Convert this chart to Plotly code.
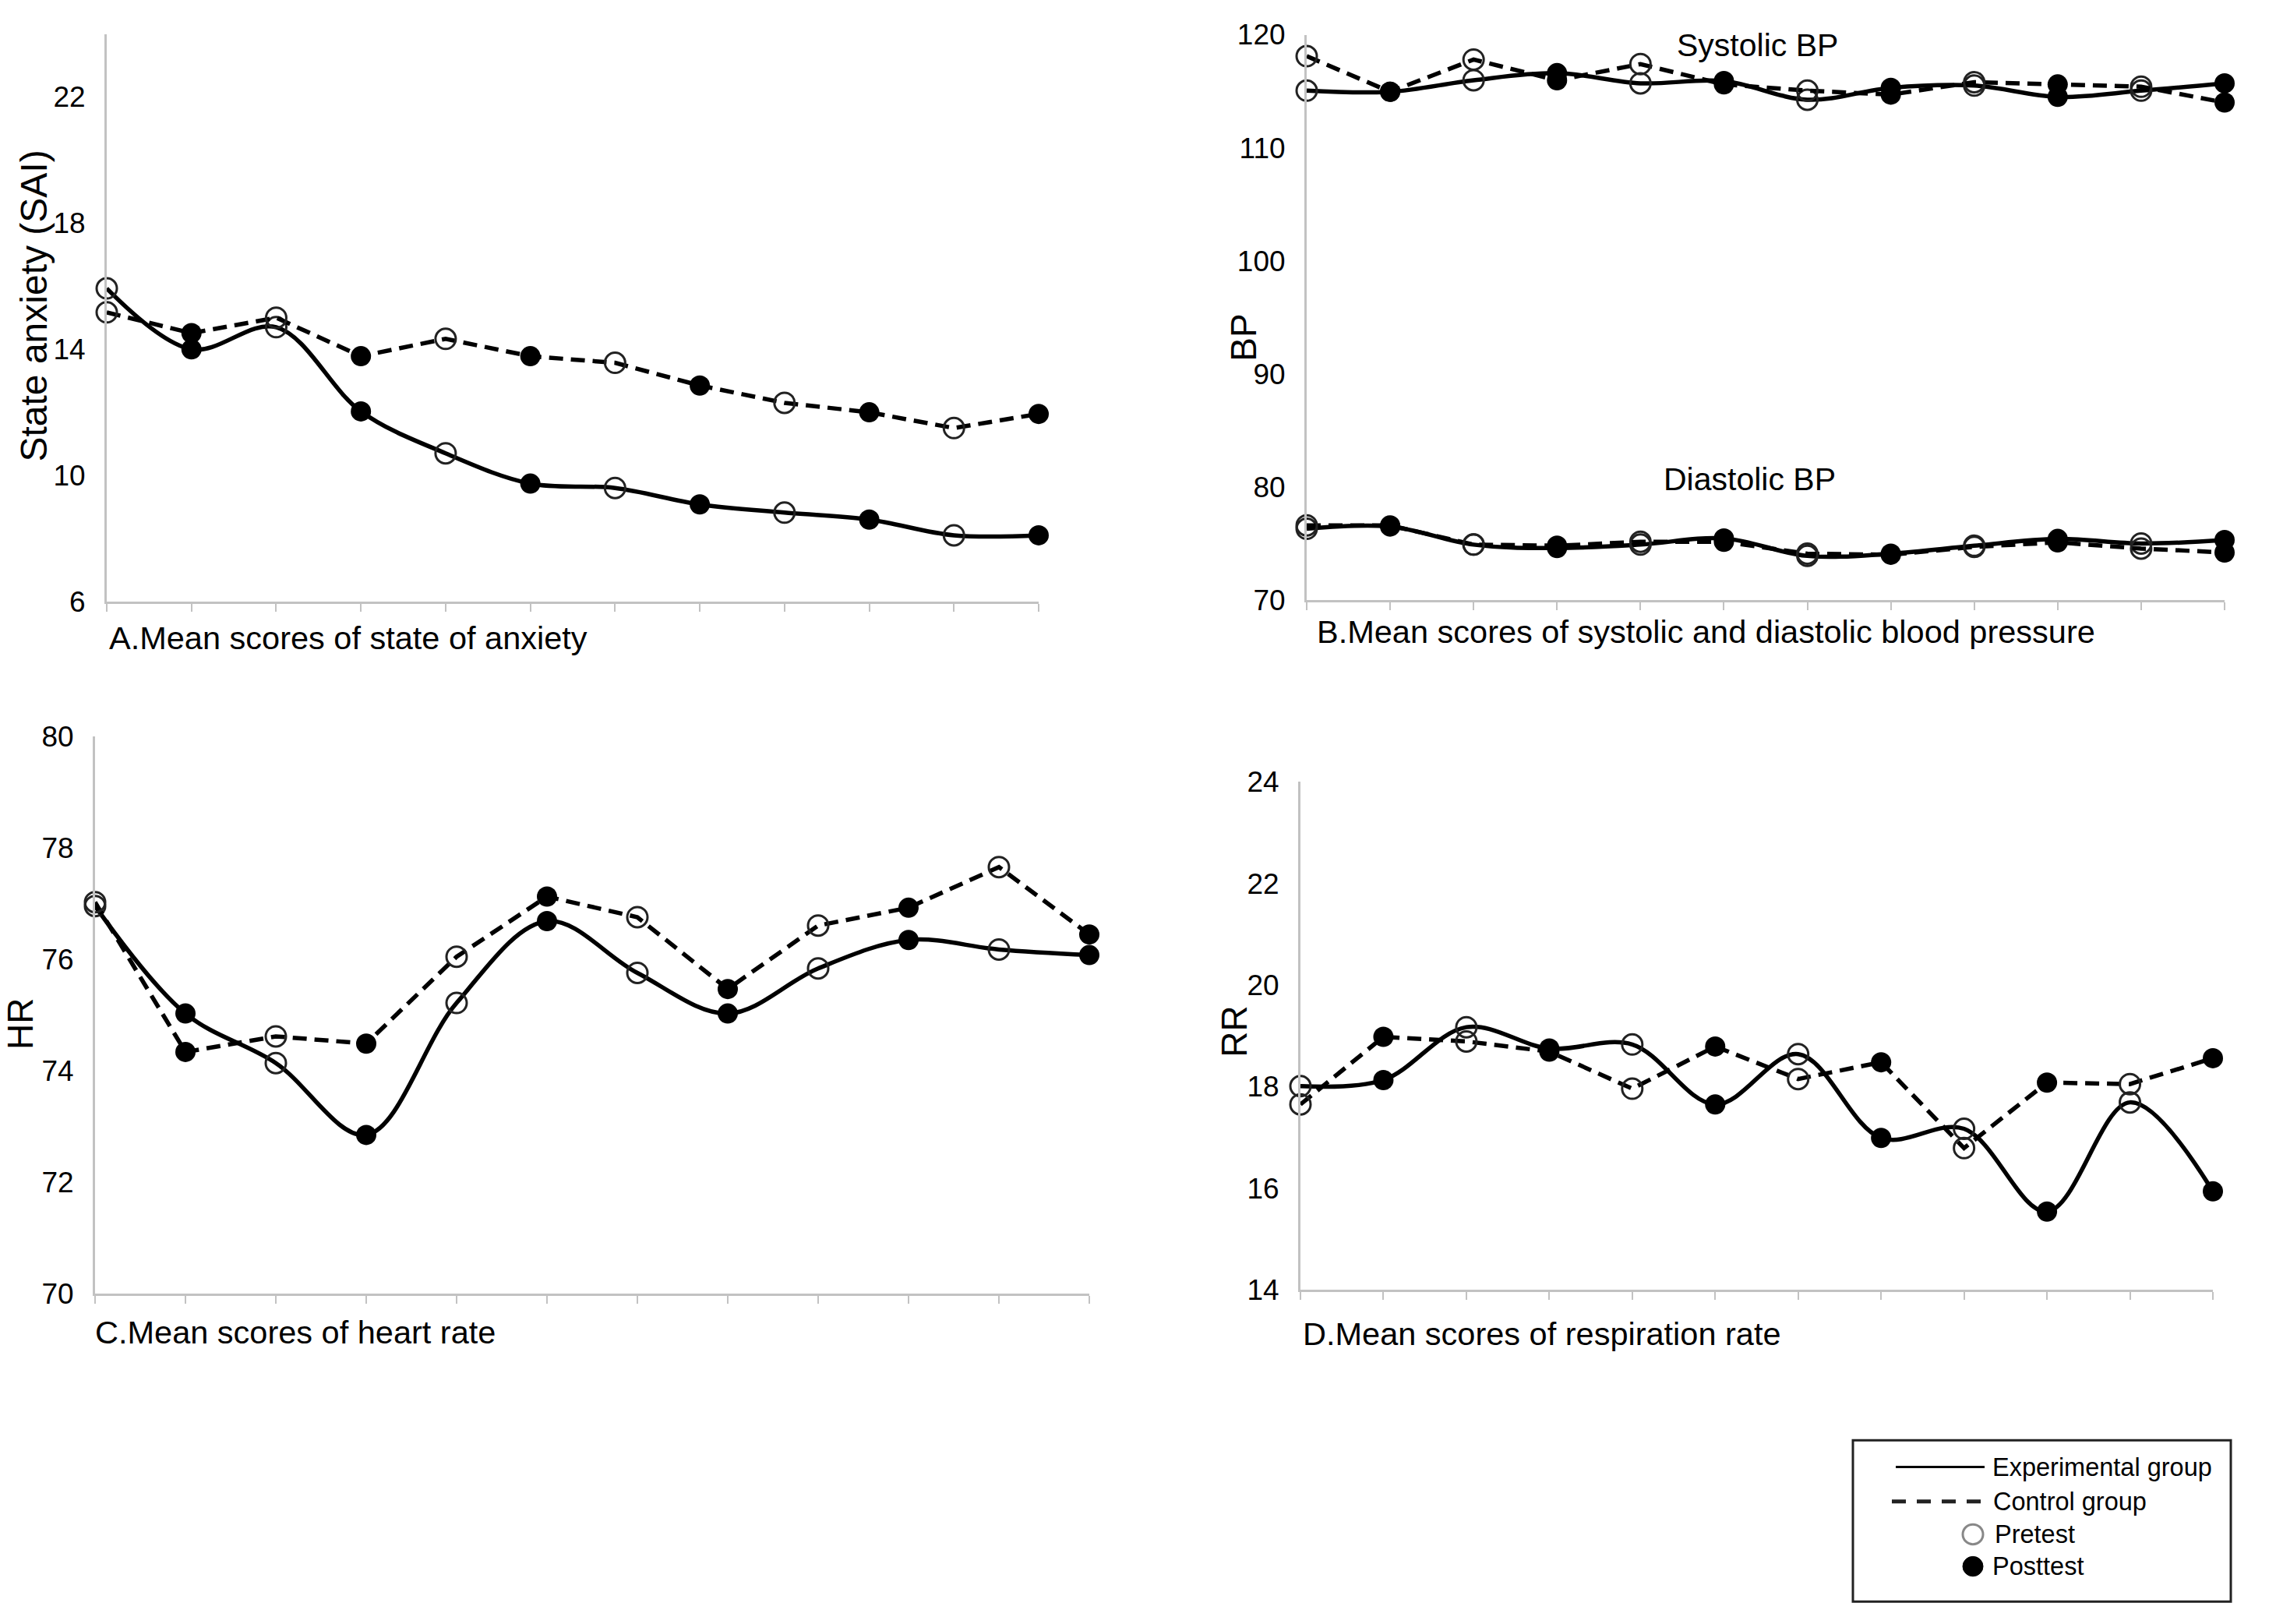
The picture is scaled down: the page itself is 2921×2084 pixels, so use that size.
import plotly.graph_objects as go

W = 2921; H = 2084

sessions = list(range(1, 13))

# state anxiety (SAI)
anx_exp = [15.93, 14.0, 14.7, 12.03, 10.7, 9.74, 9.6, 9.08, 8.82, 8.6, 8.1, 8.1]
anx_ctl = [15.17, 14.51, 15.0, 13.78, 14.33, 13.78, 13.57, 12.85, 12.3, 12.0, 11.5, 11.95]
# systolic / diastolic BP
sbp_exp = [115.05, 114.95, 115.97, 116.6, 115.7, 115.9, 114.25, 115.3, 115.5, 114.5, 115.05, 115.7]
sbp_ctl = [118.1, 114.95, 117.8, 115.97, 117.4, 115.6, 115.05, 114.7, 115.8, 115.6, 115.4, 114.0]
dbp_exp = [76.3, 76.5, 74.9, 74.6, 74.9, 75.45, 73.9, 74.1, 74.8, 75.4, 75.0, 75.3]
dbp_ctl = [76.6, 76.6, 74.9, 74.8, 75.15, 75.15, 74.1, 74.0, 74.7, 75.1, 74.55, 74.2]
# heart rate
hr_exp = [76.96, 75.03, 74.14, 72.85, 75.22, 76.69, 75.76, 75.03, 75.84, 76.35, 76.18, 76.08]
hr_ctl = [77.03, 74.34, 74.62, 74.49, 76.05, 77.13, 76.76, 75.47, 76.61, 76.93, 77.66, 76.45]
# respiration rate
rr_exp = [18.01, 18.13, 19.17, 18.75, 18.83, 17.65, 18.64, 16.99, 17.17, 15.54, 17.69, 15.94]
rr_ctl = [17.65, 18.98, 18.89, 18.69, 17.96, 18.79, 18.15, 18.48, 16.79, 18.08, 18.05, 18.56]

y_ticks_a = [6, 10, 14, 18, 22]
y_ticks_b = [70, 80, 90, 100, 110, 120]
y_ticks_c = [70, 72, 74, 76, 78, 80]
y_ticks_d = [14, 16, 18, 20, 22, 24]

panel_titles = ["A.Mean scores of state of anxiety",
                "B.Mean scores of systolic and diastolic blood pressure",
                "C.Mean scores of heart rate",
                "D.Mean scores of respiration rate"]
y_titles = ["State anxiety (SAI)", "BP", "HR", "RR"]
legend_labels = ["Experimental group", "Control group", "Pretest", "Posttest"]

FONT = "Liberation Sans, Arial, sans-serif"
AX = "#c2c2c2"

def px(x):
    return x / W

def py(y):
    return 1 - y / H

fig = go.Figure()

def add_series(vals, axis, dashed):
    xa, ya = "x" + axis, "y" + axis
    fig.add_trace(go.Scatter(
        x=sessions, y=vals, mode="lines", xaxis=xa, yaxis=ya,
        line=dict(color="black", width=5.5,
                  dash="18px,10px" if dashed else "solid",
                  shape="linear" if dashed else "spline"),
        cliponaxis=False, showlegend=False, hoverinfo="skip"))
    # pretest = open circles, posttest = filled circles
    fig.add_trace(go.Scatter(
        x=sessions[0::2], y=vals[0::2], mode="markers", xaxis=xa, yaxis=ya,
        marker=dict(symbol="circle-open", size=26, color="#222",
                    line=dict(width=3, color="#222")),
        cliponaxis=False, showlegend=False))
    fig.add_trace(go.Scatter(
        x=sessions[1::2], y=vals[1::2], mode="markers", xaxis=xa, yaxis=ya,
        marker=dict(symbol="circle", size=26, color="black"),
        cliponaxis=False, showlegend=False))

add_series(anx_exp, "", False)
add_series(anx_ctl, "", True)
add_series(sbp_exp, "2", False)
add_series(sbp_ctl, "2", True)
add_series(dbp_exp, "2", False)
add_series(dbp_ctl, "2", True)
add_series(hr_exp, "3", False)
add_series(hr_ctl, "3", True)
add_series(rr_exp, "4", False)
add_series(rr_ctl, "4", True)

# panel boxes in pixels: left, right, top, bottom
boxes = [(137, 1333, 24, 767), (1677, 2855, 25, 765),
         (122, 1398, 944, 1673), (1669, 2840, 1003, 1668)]
yranges = [[6, 24], [70, 120], [70, 80], [14, 24]]
yticks = [y_ticks_a, y_ticks_b, y_ticks_c, y_ticks_d]

for i, (l, r, t, b) in enumerate(boxes):
    sfx = "" if i == 0 else str(i + 1)
    fig.layout["xaxis" + sfx] = dict(
        domain=[px(l), px(r)], range=[1, 12], anchor="y" + sfx,
        tickvals=sessions, showticklabels=False, ticks="outside",
        ticklen=10, tickwidth=2, tickcolor=AX,
        showline=True, linecolor=AX, linewidth=3,
        showgrid=False, zeroline=False)
    fig.layout["yaxis" + sfx] = dict(
        domain=[py(b), py(t)], range=yranges[i], anchor="x" + sfx,
        tickvals=yticks[i], ticks="", ticklabelstandoff=17,
        tickfont=dict(size=37, color="black", family=FONT),
        showline=True, linecolor=AX, linewidth=3,
        showgrid=False, zeroline=False)

ann = []
title_pos = [(138, 815), (1688, 806), (120, 1723), (1670, 1725)]
for txt, (x, y) in zip(panel_titles, title_pos):
    ann.append(dict(text=txt, x=px(x), y=py(y), xref="paper", yref="paper",
                    xanchor="left", yanchor="middle", showarrow=False,
                    font=dict(size=41.5, color="black", family=FONT)))

ytitle_pos = [(44, 380, 48), (1596, 422, 46), (26, 1320, 46), (1584, 1330, 46)]
for txt, (x, y, s) in zip(y_titles, ytitle_pos):
    ann.append(dict(text=txt, x=px(x), y=py(y), xref="paper", yref="paper",
                    xanchor="center", yanchor="middle", textangle=-90,
                    showarrow=False, font=dict(size=s, color="black", family=FONT)))

for txt, (x, y) in [("Systolic BP", (2255, 39)), ("Diastolic BP", (2245, 607))]:
    ann.append(dict(text=txt, x=px(x), y=py(y), xref="paper", yref="paper",
                    xanchor="center", yanchor="middle", showarrow=False,
                    font=dict(size=41, color="black", family=FONT)))

# legend box drawn by hand
shapes = [
    dict(type="rect", xref="paper", yref="paper", x0=px(2378), x1=px(2863),
         y0=py(2076), y1=py(1865), line=dict(color="#222", width=3)),
    dict(type="line", xref="paper", yref="paper", x0=px(2433), x1=px(2547),
         y0=py(1900), y1=py(1900), line=dict(color="black", width=3)),
    dict(type="line", xref="paper", yref="paper", x0=px(2428), x1=px(2545),
         y0=py(1945), y1=py(1945), line=dict(color="#222", width=5, dash="18px,14px")),
    dict(type="circle", xref="paper", yref="paper", x0=px(2519), x1=px(2545),
         y0=py(2001), y1=py(1975), line=dict(color="#888", width=3)),
    dict(type="circle", xref="paper", yref="paper", x0=px(2519), x1=px(2545),
         y0=py(2043), y1=py(2017), line=dict(color="black", width=1),
         fillcolor="black"),
]
leg_y = [1900, 1945, 1988, 2030]
leg_x = [2555, 2556, 2558, 2555]
for txt, x, y in zip(legend_labels, leg_x, leg_y):
    ann.append(dict(text=txt, x=px(x), y=py(y), xref="paper", yref="paper",
                    xanchor="left", yanchor="middle", showarrow=False,
                    font=dict(size=32.5, color="black", family=FONT)))

fig.update_layout(width=W, height=H, margin=dict(l=0, r=0, t=0, b=0),
                  paper_bgcolor="white", plot_bgcolor="white",
                  annotations=ann, shapes=shapes, showlegend=False,
                  font=dict(family=FONT, color="black"))

pin = ("var d=document.getElementById('{plot_id}');"
       "d.style.position='absolute';d.style.left='0px';d.style.top='0px';"
       "document.body.style.margin='0';document.body.style.overflow='hidden';")
fig.write_html("out.html", config={"displayModeBar": False}, post_script=pin)
